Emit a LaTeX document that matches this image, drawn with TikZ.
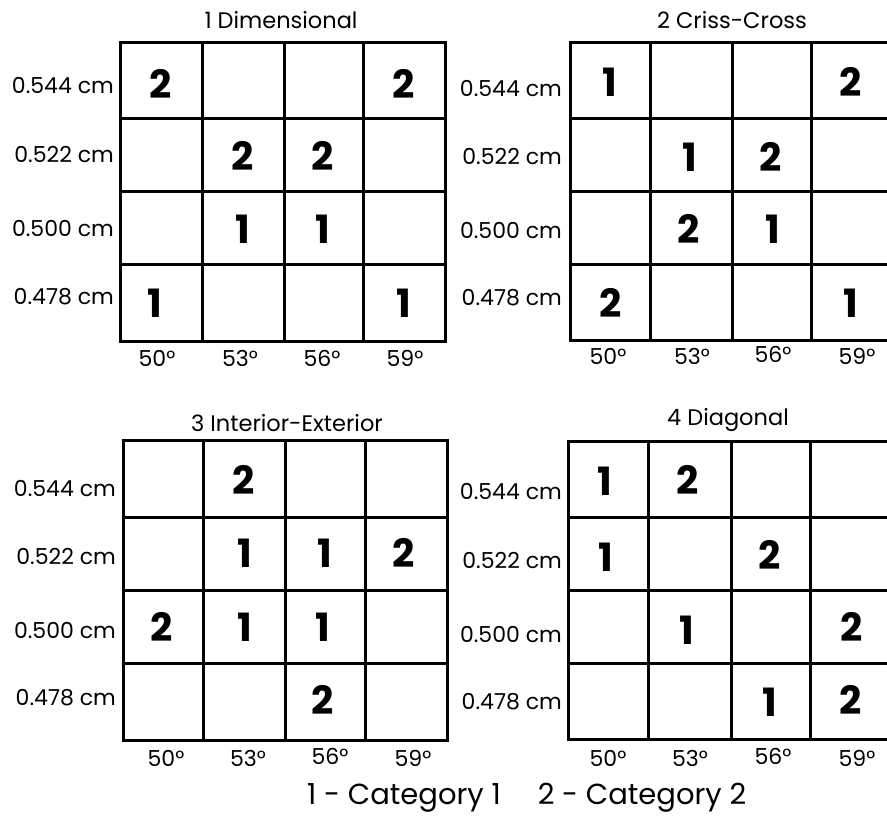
\documentclass[tikz,border=0pt]{standalone}
\usepackage{fontspec}
\setmainfont{Poppins}
\tikzset{
  gridline/.style={line width=3pt, line cap=rect},
  rowlab/.style={anchor=east, inner sep=0pt, font=\fontsize{22}{22}\selectfont},
  collab/.style={inner sep=0pt, font=\fontsize{22}{22}\selectfont},
  ttl/.style={inner sep=0pt, font=\fontsize{22.5}{22.5}\selectfont},
  dig/.style={inner sep=0pt, font=\fontsize{39}{39}\selectfont\bfseries},
  legend/.style={inner sep=0pt, font=\fontsize{29}{29}\selectfont},
}
\begin{document}
\begin{tikzpicture}[x=1pt,y=-1pt]
\useasboundingbox (0,0) rectangle (887,818);
% ---------- Grid 1 ----------
\foreach \x in {120,202,284,363,445} \draw[gridline] (\x,43) -- (\x,342);
\foreach \y in {43,119,192,265,342} \draw[gridline] (120,\y) -- (445,\y);
\node[ttl] (t1) at (281,20) {1 Dimensional};
\node[rowlab] (a1r1) at (114,86) {0.544 cm};
\node[rowlab] (a1r2) at (114,155) {0.522 cm};
\node[rowlab] (a1r3) at (114,229) {0.500 cm};
\node[rowlab] (a1r4) at (114,297) {0.478 cm};
\node[collab] (a1c1) at (157,358) {50°};
\node[collab] (a1c2) at (240,358) {53°};
\node[collab] (a1c3) at (322,358) {56°};
\node[collab] (a1c4) at (405,358) {59°};
\node[dig] (a1d1) at (161,84) {2};
\node[dig] (a1d2) at (404,84) {2};
\node[dig] (a1d3) at (243,156) {2};
\node[dig] (a1d4) at (323,156) {2};
\node[dig] (a1d5) at (243,229) {1};
\node[dig] (a1d6) at (323,229) {1};
\node[dig] (a1d7) at (155,303) {1};
\node[dig] (a1d8) at (404,303) {1};
% ---------- Grid 2 ----------
\foreach \x in {570,650,732,811,891} \draw[gridline] (\x,43) -- (\x,341);
\foreach \y in {43,119,192,265,341} \draw[gridline] (570,\y) -- (891,\y);
\node[ttl] (t2) at (732,20) {2 Criss-Cross};
\node[rowlab] (a2r1) at (562,89) {0.544 cm};
\node[rowlab] (a2r2) at (562,157) {0.522 cm};
\node[rowlab] (a2r3) at (562,231) {0.500 cm};
\node[rowlab] (a2r4) at (562,298) {0.478 cm};
\node[collab] (a2c1) at (608,356) {50°};
\node[collab] (a2c2) at (692,356) {53°};
\node[collab] (a2c3) at (773,354) {56°};
\node[collab] (a2c4) at (857,356) {59°};
\node[dig] (a2d1) at (610,82) {1};
\node[dig] (a2d2) at (851,82) {2};
\node[dig] (a2d3) at (690,157) {1};
\node[dig] (a2d4) at (771,157) {2};
\node[dig] (a2d5) at (689,229) {2};
\node[dig] (a2d6) at (773,229) {1};
\node[dig] (a2d7) at (611,303) {2};
\node[dig] (a2d8) at (851,303) {1};
% ---------- Grid 3 ----------
\foreach \x in {123,203,285,365,447} \draw[gridline] (\x,441) -- (\x,740);
\foreach \y in {441,517,590,663,740} \draw[gridline] (123,\y) -- (447,\y);
\node[ttl] (t3) at (287,423) {3 Interior-Exterior};
\node[rowlab] (a3r1) at (116,489) {0.544 cm};
\node[rowlab] (a3r2) at (116,557) {0.522 cm};
\node[rowlab] (a3r3) at (116,631) {0.500 cm};
\node[rowlab] (a3r4) at (116,698) {0.478 cm};
\node[collab] (a3c1) at (166,758) {50°};
\node[collab] (a3c2) at (248,758) {53°};
\node[collab] (a3c3) at (330,756) {56°};
\node[collab] (a3c4) at (413,758) {59°};
\node[dig] (a3d1) at (244,480) {2};
\node[dig] (a3d2) at (245,553) {1};
\node[dig] (a3d3) at (325,553) {1};
\node[dig] (a3d4) at (404,553) {2};
\node[dig] (a3d5) at (162,627) {2};
\node[dig] (a3d6) at (245,627) {1};
\node[dig] (a3d7) at (323,627) {1};
\node[dig] (a3d8) at (323,700) {2};
% ---------- Grid 4 ----------
\foreach \x in {568,648,731,810,891} \draw[gridline] (\x,442) -- (\x,739);
\foreach \y in {442,517,590,663,739} \draw[gridline] (568,\y) -- (891,\y);
\node[ttl] (t4) at (728,420) {4 Diagonal};
\node[rowlab] (a4r1) at (562,492) {0.544 cm};
\node[rowlab] (a4r2) at (562,561) {0.522 cm};
\node[rowlab] (a4r3) at (562,635) {0.500 cm};
\node[rowlab] (a4r4) at (562,702) {0.478 cm};
\node[collab] (a4c1) at (608,758) {50°};
\node[collab] (a4c2) at (690,758) {53°};
\node[collab] (a4c3) at (773,756) {56°};
\node[collab] (a4c4) at (857,758) {59°};
\node[dig] (a4d1) at (605,481) {1};
\node[dig] (a4d2) at (688,480) {2};
\node[dig] (a4d3) at (606,557) {1};
\node[dig] (a4d4) at (770,555) {2};
\node[dig] (a4d5) at (687,630) {1};
\node[dig] (a4d6) at (852,627) {2};
\node[dig] (a4d7) at (770,702) {1};
\node[dig] (a4d8) at (851,700) {2};
% ---------- Legend ----------
\node[legend] (l1) at (404,798) {1 - Category 1};
\node[legend] (l2) at (642,798) {2 - Category 2};
\end{tikzpicture}
\end{document}
